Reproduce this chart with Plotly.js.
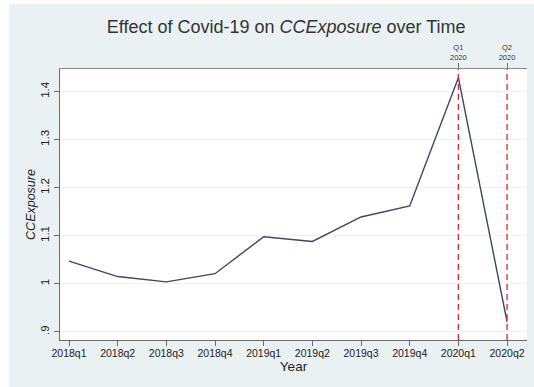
<!DOCTYPE html>
<html>
<head>
<meta charset="utf-8">
<script src="https://cdn.plot.ly/plotly-3.0.1.min.js"></script>
<style>
  html, body { margin: 0; padding: 0; background: #ffffff; }
  #chart { position: absolute; left: 9px; top: 4px; width: 525px; height: 383px; }
</style>
</head>
<body>
<div id="chart"></div>
<script>
// Quarterly mean of CCExposure, 2018q1 to 2020q2
const quarters = ['2018q1', '2018q2', '2018q3', '2018q4', '2019q1', '2019q2', '2019q3', '2019q4', '2020q1', '2020q2'];
const ccExposure = [1.047, 1.015, 1.004, 1.021, 1.098, 1.088, 1.139, 1.162, 1.429, 0.921];

// Covid-19 event quarters marked with dashed lines
const eventQuarters = ['2020q1', '2020q2'];
const eventLabels = ['Q1<br>2020', 'Q2<br>2020'];

const yTickVals = [0.9, 1.0, 1.1, 1.2, 1.3, 1.4];
const yTickText = ['.9', '1', '1.1', '1.2', '1.3', '1.4'];

const font = 'Liberation Sans, Arial, Helvetica, sans-serif';
const axisColor = '#6b6b6b';

const trace = {
  x: quarters,
  y: ccExposure,
  type: 'scatter',
  mode: 'lines',
  line: { color: '#3a4862', width: 1.4 },
  hoverinfo: 'x+y',
  showlegend: false
};

// invisible trace so the top axis is drawn
const topTrace = {
  x: eventQuarters,
  y: [null, null],
  xaxis: 'x2',
  type: 'scatter',
  mode: 'lines',
  showlegend: false,
  hoverinfo: 'skip'
};

const xRange = [-0.185, 9.41];

const layout = {
  width: 525,
  height: 383,
  margin: { l: 51, r: 7, t: 65, b: 47 },
  paper_bgcolor: '#eaf1f3',
  plot_bgcolor: '#ffffff',
  font: { family: font, color: '#333333' },
  title: {
    text: 'Effect of Covid-19 on <i>CCExposure</i> over Time',
    font: { size: 18, color: '#333333', family: font },
    x: 0.528, xanchor: 'center',
    y: 0.94, yanchor: 'middle'
  },
  xaxis: {
    type: 'category',
    categoryorder: 'array',
    categoryarray: quarters,
    range: xRange,
    showgrid: false,
    zeroline: false,
    showline: true,
    linecolor: axisColor,
    linewidth: 1.2,
    ticks: 'outside',
    ticklen: 5,
    tickcolor: axisColor,
    ticklabelstandoff: -2,
    tickfont: { size: 10.5, color: '#222222' },
    title: { text: 'Year', font: { size: 13.5, color: '#222222' }, standoff: 2 }
  },
  xaxis2: {
    type: 'category',
    categoryorder: 'array',
    categoryarray: quarters,
    overlaying: 'x',
    side: 'top',
    range: xRange,
    tickmode: 'array',
    tickvals: eventQuarters,
    ticktext: eventLabels,
    showgrid: false,
    zeroline: false,
    showline: true,
    linecolor: '#8a8a8a',
    linewidth: 1.2,
    ticks: 'outside',
    ticklen: 5,
    tickcolor: axisColor,
    tickfont: { size: 7.5, color: '#333333' }
  },
  yaxis: {
    range: [0.883, 1.447],
    tickmode: 'array',
    tickvals: yTickVals,
    ticktext: yTickText,
    tickangle: -90,
    showgrid: true,
    gridcolor: '#eef2f3',
    gridwidth: 1,
    zeroline: false,
    showline: true,
    linecolor: axisColor,
    linewidth: 1.2,
    ticks: 'outside',
    ticklen: 5,
    tickcolor: axisColor,
    tickfont: { size: 11.5, color: '#222222' },
    title: { text: '<i>CCExposure</i>', font: { size: 12.5, color: '#222222' }, standoff: 0 }
  },
  shapes: eventQuarters.map(q => ({
    type: 'line',
    xref: 'x', yref: 'paper',
    x0: q, x1: q, y0: 0, y1: 1,
    line: { color: '#e0242a', width: 1.3, dash: '6px,4px' }
  }))
};

Plotly.newPlot('chart', [trace, topTrace], layout, { displayModeBar: false, staticPlot: true });
</script>
</body>
</html>
